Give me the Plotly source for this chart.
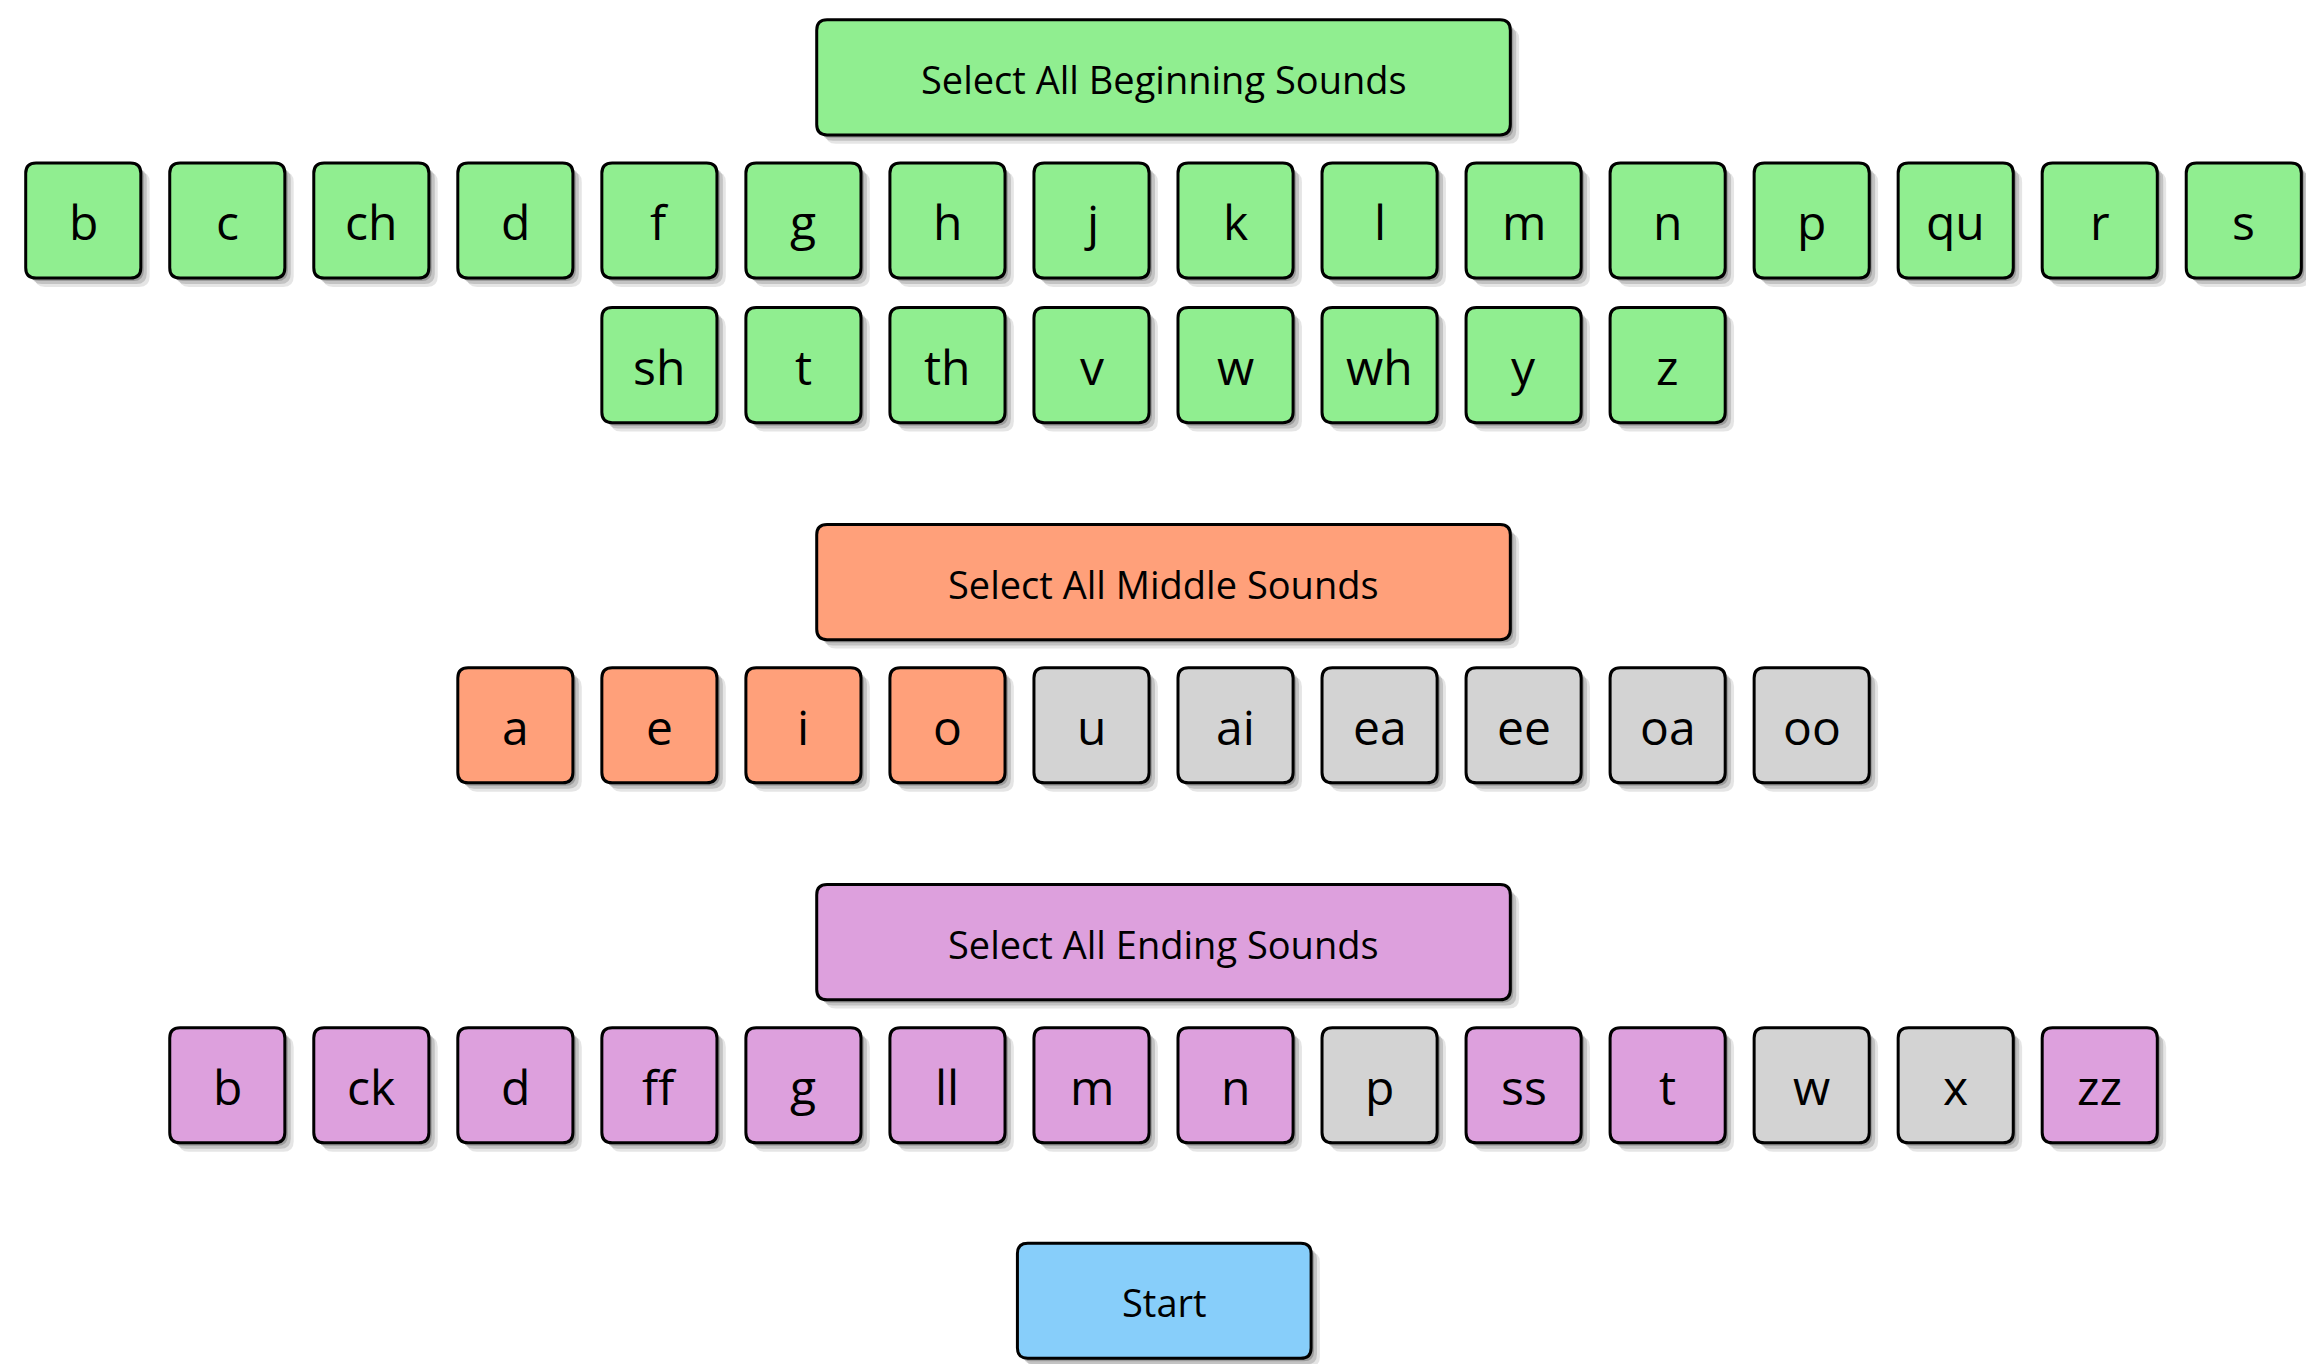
import plotly.graph_objects as go

beginning = ["b", "c", "ch", "d", "f", "g", "h", "j", "k", "l", "m", "n", "p", "qu", "r", "s",
             "sh", "t", "th", "v", "w", "wh", "y", "z"]
middle = ["a", "e", "i", "o", "u", "ai", "ea", "ee", "oa", "oo"]
middle_on = [True, True, True, True, False, False, False, False, False, False]
ending = ["b", "ck", "d", "ff", "g", "ll", "m", "n", "p", "ss", "t", "w", "x", "zz"]
ending_on = [True, True, True, True, True, True, True, True, False, True, True, False, False, True]

GREEN, SALMON, PLUM, GREY, BLUE = "#90EE90", "#FFA07A", "#DDA0DD", "#D3D3D3", "#87CEFA"
FONT = "Open Sans"
S = 2314 / 1568  # design units -> pixels

fig = go.Figure()
shapes, notes = [], []


def rrect(x0, y0, x1, y1, r, fill, line_w=3, line_c="black"):
    x0, y0, x1, y1, r = x0 * S, y0 * S, x1 * S, y1 * S, r * S
    p = (f"M{x0+r},{y0} L{x1-r},{y0} Q{x1},{y0} {x1},{y0+r} L{x1},{y1-r} Q{x1},{y1} {x1-r},{y1} "
         f"L{x0+r},{y1} Q{x0},{y1} {x0},{y1-r} L{x0},{y0+r} Q{x0},{y0} {x0+r},{y0} Z")
    return dict(type="path", path=p, xref="x", yref="y", fillcolor=fill,
                line=dict(width=line_w, color=line_c), layer="above")


def button(x0, y0, w, h, label, fill, size):
    for k, a in [(6, 0.10), (4, 0.15), (2, 0.2)]:
        shapes.append(rrect(x0 + k, y0 + k, x0 + w + k, y0 + h + k, 7, f"rgba(0,0,0,{a})", 0, "rgba(0,0,0,0)"))
    shapes.append(rrect(x0, y0, x0 + w, y0 + h, 7, fill))
    notes.append(dict(x=(x0 + w / 2) * S, y=(y0 + h / 2 + 1) * S, xref="x", yref="y", text=label,
                      showarrow=False, font=dict(family=FONT, size=size, color="black")))


KW, STEP = 78, 97.6


def key(col, y0, label, fill):
    button(12 + col * STEP, y0, KW, KW, label, fill, 48)


button(548, 8, 470, 78, "Select All Beginning Sounds", GREEN, 38)
for i, lab in enumerate(beginning):
    if i < 16:
        key(i, 105, lab, GREEN)
    else:
        key(i - 12, 203, lab, GREEN)

button(548, 350, 470, 78, "Select All Middle Sounds", SALMON, 38)
for i, (lab, on) in enumerate(zip(middle, middle_on)):
    key(i + 3, 447, lab, SALMON if on else GREY)

button(548, 594, 470, 78, "Select All Ending Sounds", PLUM, 38)
for i, (lab, on) in enumerate(zip(ending, ending_on)):
    key(i + 1, 691, lab, PLUM if on else GREY)

button(684, 837, 199, 78, "Start", BLUE, 38)

fig.update_layout(
    width=2314, height=1364, margin=dict(l=0, r=0, t=0, b=0),
    plot_bgcolor="white", paper_bgcolor="white", showlegend=False,
    shapes=shapes, annotations=notes,
    xaxis=dict(range=[0, 2314], visible=False, fixedrange=True),
    yaxis=dict(range=[1364, 0], visible=False, fixedrange=True),
)
fig.write_html("out.html")
